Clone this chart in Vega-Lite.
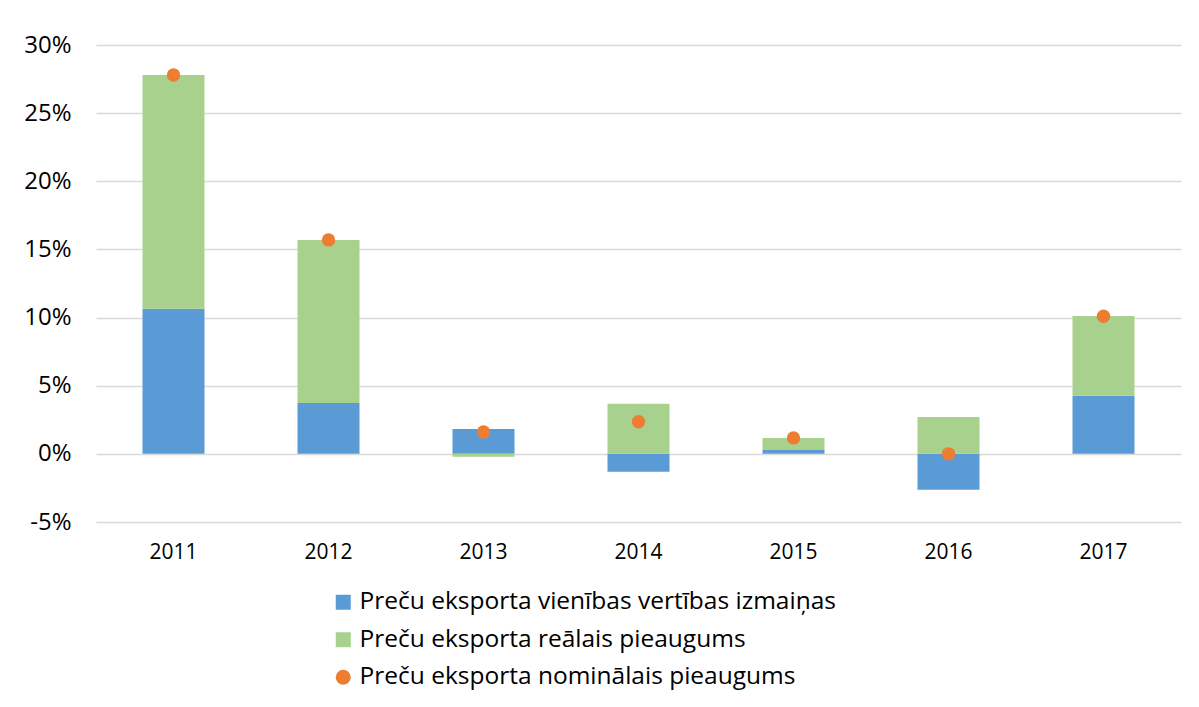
{
  "$schema": "https://vega.github.io/schema/vega-lite/v6.json",
  "width": 1085,
  "height": 477,
  "autosize": {"type": "none"},
  "padding": {"left": 96, "top": 45, "right": 18, "bottom": 185},
  "background": "white",
  "config": {
    "font": "Open Sans",
    "view": {"stroke": null},
    "axis": {"labelColor": "#000000", "labelFont": "Open Sans"},
    "legend": {"labelFont": "Open Sans"}
  },
  "datasets": {
    "bars": [
      {"year": "2011", "series": "Preču eksporta vienības vertības izmaiņas", "value": 0.1064},
      {"year": "2011", "series": "Preču eksporta reālais pieaugums", "value": 0.1716},
      {"year": "2012", "series": "Preču eksporta vienības vertības izmaiņas", "value": 0.0374},
      {"year": "2012", "series": "Preču eksporta reālais pieaugums", "value": 0.1196},
      {"year": "2013", "series": "Preču eksporta vienības vertības izmaiņas", "value": 0.0183},
      {"year": "2013", "series": "Preču eksporta reālais pieaugums", "value": -0.0022},
      {"year": "2014", "series": "Preču eksporta vienības vertības izmaiņas", "value": -0.0132},
      {"year": "2014", "series": "Preču eksporta reālais pieaugums", "value": 0.0367},
      {"year": "2015", "series": "Preču eksporta vienības vertības izmaiņas", "value": 0.0029},
      {"year": "2015", "series": "Preču eksporta reālais pieaugums", "value": 0.0088},
      {"year": "2016", "series": "Preču eksporta vienības vertības izmaiņas", "value": -0.0264},
      {"year": "2016", "series": "Preču eksporta reālais pieaugums", "value": 0.0271},
      {"year": "2017", "series": "Preču eksporta vienības vertības izmaiņas", "value": 0.0426},
      {"year": "2017", "series": "Preču eksporta reālais pieaugums", "value": 0.0586}
    ],
    "points": [
      {"year": "2011", "series": "Preču eksporta nominālais pieaugums", "value": 0.278},
      {"year": "2012", "series": "Preču eksporta nominālais pieaugums", "value": 0.157},
      {"year": "2013", "series": "Preču eksporta nominālais pieaugums", "value": 0.016},
      {"year": "2014", "series": "Preču eksporta nominālais pieaugums", "value": 0.0235},
      {"year": "2015", "series": "Preču eksporta nominālais pieaugums", "value": 0.0117},
      {"year": "2016", "series": "Preču eksporta nominālais pieaugums", "value": 0.0},
      {"year": "2017", "series": "Preču eksporta nominālais pieaugums", "value": 0.101}
    ]
  },
  "encoding": {
    "x": {
      "field": "year",
      "type": "nominal",
      "title": null,
      "scale": {"paddingInner": 0.6, "paddingOuter": 0.3},
      "axis": {
        "labelAngle": 0,
        "labelFontSize": 21,
        "labelPadding": 19,
        "ticks": false,
        "domain": false,
        "grid": false
      }
    },
    "color": {
      "field": "series",
      "type": "nominal",
      "title": null,
      "scale": {
        "domain": [
          "Preču eksporta vienības vertības izmaiņas",
          "Preču eksporta reālais pieaugums",
          "Preču eksporta nominālais pieaugums"
        ],
        "range": ["#5B9BD5", "#A9D18E", "#ED7D31"]
      },
      "legend": {
        "orient": "none",
        "legendX": 235,
        "legendY": 545,
        "direction": "vertical",
        "symbolType": "square",
        "symbolSize": 225,
        "symbolStrokeWidth": 0,
        "labelFontSize": 24.5,
        "labelOffset": 4,
        "rowPadding": 12.5,
        "labelLimit": 700,
        "labelColor": "#000000",
        "encode": {
          "symbols": {
            "update": {
              "shape": {"signal": "datum.value === 'Preču eksporta nominālais pieaugums' ? 'circle' : 'square'"}
            }
          }
        }
      }
    }
  },
  "layer": [
    {
      "data": {"name": "bars"},
      "mark": {"type": "bar"},
      "encoding": {
        "y": {
          "field": "value",
          "type": "quantitative",
          "stack": "zero",
          "title": null,
          "scale": {"domain": [-0.05, 0.3], "nice": false, "zero": false},
          "axis": {
            "values": [-0.05, 0, 0.05, 0.1, 0.15, 0.2, 0.25, 0.3],
            "format": ".0%",
            "labelExpr": "replace(datum.label, '−', '-')",
            "labelFontSize": 24,
            "labelPadding": 25,
            "ticks": false,
            "domain": false,
            "grid": true,
            "gridColor": "#d9d9d9",
            "gridWidth": 1.5
          }
        },
        "order": {"field": "series", "sort": "descending"}
      }
    },
    {
      "data": {"name": "points"},
      "mark": {"type": "point", "filled": true, "opacity": 1, "size": 180},
      "encoding": {
        "y": {"field": "value", "type": "quantitative"}
      }
    }
  ]
}
